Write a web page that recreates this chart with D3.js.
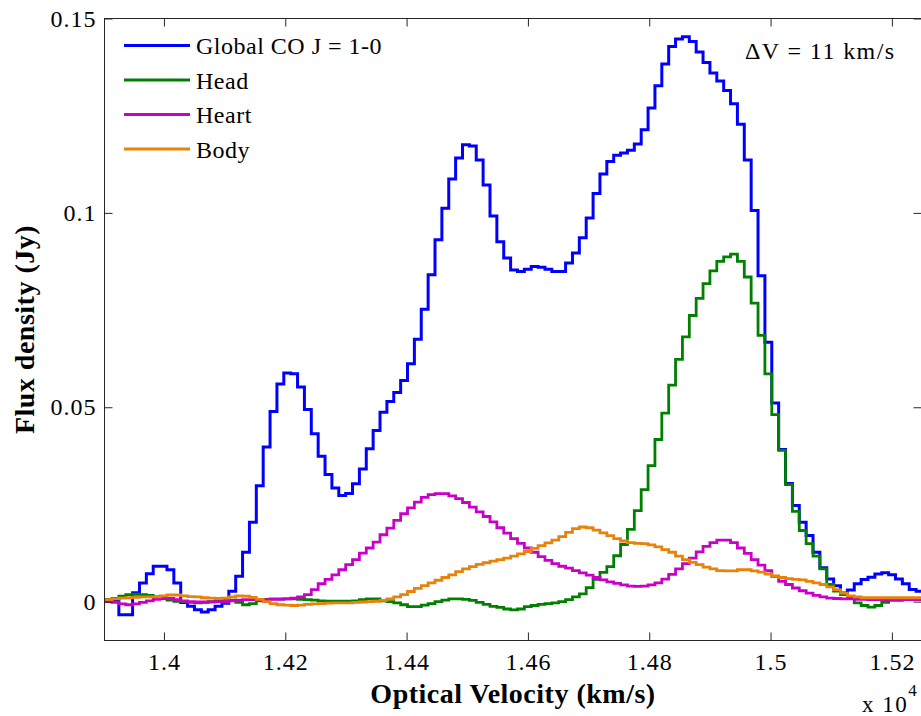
<!DOCTYPE html>
<html>
<head>
<meta charset="utf-8">
<script src="https://cdn.jsdelivr.net/npm/d3@7"></script>
<style>
  body { margin: 0; background: #fff; }
  svg text { font-family: "Liberation Serif", "Times New Roman", "DejaVu Serif", serif; fill: #000; }
</style>
</head>
<body>
<svg id="chart" width="921" height="716"></svg>
<script>
// channel grid of the spectra (optical velocity, km/s)
const chanStart = 13903;
const chanWidth = 11.33;

// flux density per channel (Jy)
const globalCO = [
  0.0005, 0.0005, -0.0034, -0.0034, 0.0023, 0.0048, 0.0072, 0.0091, 0.0091, 0.0082,
  0.0048, -0.0002, -0.0012, -0.0021, -0.0027, -0.0021, -0.0012, -0.0004, 0.0027, 0.0065,
  0.0127, 0.0204, 0.0298, 0.0398, 0.0489, 0.0560, 0.0588, 0.0586, 0.0552, 0.0494,
  0.0432, 0.0374, 0.0327, 0.0292, 0.0273, 0.0278, 0.0303, 0.0341, 0.0393, 0.0440,
  0.0487, 0.0515, 0.0538, 0.0569, 0.0612, 0.0675, 0.0752, 0.0841, 0.0931, 0.1012,
  0.1087, 0.1141, 0.1175, 0.1172, 0.1136, 0.1072, 0.0992, 0.0926, 0.0884, 0.0853,
  0.0849, 0.0855, 0.0862, 0.0860, 0.0855, 0.0849, 0.0849, 0.0871, 0.0897, 0.0936,
  0.0987, 0.1050, 0.1100, 0.1132, 0.1148, 0.1154, 0.1161, 0.1177, 0.1214, 0.1270,
  0.1327, 0.1383, 0.1428, 0.1447, 0.1453, 0.1441, 0.1414, 0.1387, 0.1360, 0.1339,
  0.1315, 0.1281, 0.1228, 0.1136, 0.1006, 0.0838, 0.0667, 0.0511, 0.0391, 0.0304,
  0.0247, 0.0204, 0.0170, 0.0127, 0.0087, 0.0058, 0.0041, 0.0022, 0.0030, 0.0046,
  0.0057, 0.0063, 0.0071, 0.0074, 0.0069, 0.0058, 0.0046, 0.0031, 0.0027
];

const head = [
  0.0005, 0.0008, 0.0014, 0.0018, 0.0019, 0.0018, 0.0016, 0.0012, 0.0008, 0.0004,
  0.0001, 0.0000, -0.0002, -0.0003, -0.0002, 0.0000, 0.0002, 0.0003, 0.0004, -0.0002,
  -0.0008, -0.0005, 0.0002, 0.0006, 0.0007, 0.0007, 0.0007, 0.0007, 0.0006, 0.0005,
  0.0004, 0.0002, 0.0001, 0.0001, 0.0001, 0.0001, 0.0002, 0.0005, 0.0007, 0.0007,
  0.0002, 0.0000, -0.0003, -0.0008, -0.0013, -0.0013, -0.0009, -0.0005, 0.0000, 0.0004,
  0.0007, 0.0007, 0.0006, 0.0003, -0.0002, -0.0007, -0.0012, -0.0015, -0.0019, -0.0021,
  -0.0019, -0.0013, -0.0010, -0.0007, -0.0005, -0.0003, 0.0000, 0.0005, 0.0012, 0.0020,
  0.0036, 0.0057, 0.0075, 0.0090, 0.0118, 0.0147, 0.0186, 0.0234, 0.0288, 0.0350,
  0.0417, 0.0485, 0.0557, 0.0623, 0.0681, 0.0736, 0.0780, 0.0818, 0.0851, 0.0875,
  0.0887, 0.0894, 0.0875, 0.0835, 0.0768, 0.0685, 0.0586, 0.0481, 0.0389, 0.0301,
  0.0232, 0.0183, 0.0149, 0.0117, 0.0084, 0.0044, 0.0027, 0.0018, 0.0010, -0.0003,
  -0.0010, -0.0014, -0.0010, -0.0002, 0.0003, 0.0003, 0.0007, 0.0007, 0.0007
];

const heart = [
  0.0000, -0.0002, -0.0006, -0.0008, -0.0006, -0.0002, 0.0002, 0.0006, 0.0009, 0.0008,
  0.0005, 0.0002, 0.0000, -0.0001, -0.0001, -0.0001, 0.0000, 0.0000, 0.0002, 0.0004,
  0.0005, 0.0005, 0.0005, 0.0005, 0.0006, 0.0006, 0.0007, 0.0009, 0.0012, 0.0018,
  0.0031, 0.0046, 0.0057, 0.0069, 0.0082, 0.0095, 0.0108, 0.0125, 0.0138, 0.0153,
  0.0172, 0.0189, 0.0209, 0.0226, 0.0241, 0.0256, 0.0268, 0.0275, 0.0278, 0.0278,
  0.0272, 0.0265, 0.0255, 0.0243, 0.0231, 0.0219, 0.0205, 0.0190, 0.0176, 0.0162,
  0.0150, 0.0138, 0.0127, 0.0116, 0.0106, 0.0098, 0.0091, 0.0086, 0.0080, 0.0074,
  0.0068, 0.0062, 0.0056, 0.0051, 0.0047, 0.0043, 0.0040, 0.0039, 0.0040, 0.0043,
  0.0048, 0.0058, 0.0070, 0.0084, 0.0098, 0.0112, 0.0128, 0.0142, 0.0152, 0.0158,
  0.0158, 0.0152, 0.0138, 0.0124, 0.0108, 0.0094, 0.0080, 0.0065, 0.0052, 0.0044,
  0.0035, 0.0028, 0.0022, 0.0016, 0.0012, 0.0009, 0.0008, 0.0007, 0.0007, 0.0006,
  0.0006, 0.0005, 0.0005, 0.0005, 0.0005, 0.0005, 0.0005, 0.0005, 0.0005
];

const body = [
  0.0005, 0.0007, 0.0009, 0.0010, 0.0011, 0.0012, 0.0012, 0.0012, 0.0015, 0.0017,
  0.0017, 0.0015, 0.0013, 0.0012, 0.0010, 0.0009, 0.0008, 0.0009, 0.0012, 0.0015,
  0.0014, 0.0011, 0.0006, 0.0000, -0.0005, -0.0008, -0.0009, -0.0010, -0.0009, -0.0007,
  -0.0006, -0.0005, -0.0004, -0.0003, -0.0003, -0.0003, -0.0002, -0.0001, 0.0000, 0.0001,
  0.0003, 0.0007, 0.0012, 0.0018, 0.0026, 0.0034, 0.0041, 0.0048, 0.0055, 0.0062,
  0.0069, 0.0077, 0.0084, 0.0090, 0.0096, 0.0100, 0.0104, 0.0108, 0.0112, 0.0117,
  0.0123, 0.0129, 0.0137, 0.0144, 0.0151, 0.0158, 0.0167, 0.0178, 0.0188, 0.0192,
  0.0190, 0.0184, 0.0177, 0.0170, 0.0162, 0.0156, 0.0152, 0.0150, 0.0149, 0.0146,
  0.0141, 0.0134, 0.0127, 0.0117, 0.0108, 0.0101, 0.0095, 0.0089, 0.0084, 0.0080,
  0.0079, 0.0079, 0.0082, 0.0082, 0.0079, 0.0076, 0.0071, 0.0066, 0.0062, 0.0059,
  0.0057, 0.0056, 0.0052, 0.0048, 0.0044, 0.0038, 0.0031, 0.0022, 0.0015, 0.0012,
  0.0010, 0.0010, 0.0010, 0.0010, 0.0010, 0.0010, 0.0010, 0.0010, 0.0010
];

const seriesNames = ['Global CO J = 1-0', 'Head', 'Heart', 'Body'];
const seriesColors = ['#0000ff', '#008000', '#c800c8', '#e8820a'];
const seriesValues = [globalCO, head, heart, body];

const xTicks = [14000, 14200, 14400, 14600, 14800, 15000, 15200];
const xTickLabels = ['1.4', '1.42', '1.44', '1.46', '1.48', '1.5', '1.52'];
const yTicks = [0, 0.05, 0.1, 0.15];
const yTickLabels = ['0', '0.05', '0.1', '0.15'];

const serif = '"Liberation Serif", "Times New Roman", "DejaVu Serif", serif';
const box = { left: 104.5, right: 921.5, top: 18.5, bottom: 640.5 };

const svg = d3.select('#chart');

const x = d3.scaleLinear().domain([13902, 15248]).range([box.left, 921]);
const y = d3.scaleLinear().domain([-0.01, 0.15]).range([box.bottom, box.top]);

svg.append('defs').append('clipPath').attr('id', 'plot-clip')
  .append('rect')
  .attr('x', box.left).attr('y', box.top)
  .attr('width', box.right - box.left).attr('height', box.bottom - box.top);

// spectra as stairs
const stairs = d3.line()
  .x((d) => x(d.v))
  .y((d) => y(d.f))
  .curve(d3.curveStepAfter);

function toPoints(values) {
  const pts = values.map((f, i) => ({ v: chanStart + i * chanWidth, f }));
  pts.push({ v: chanStart + values.length * chanWidth, f: values[values.length - 1] });
  return pts;
}

const lines = svg.append('g').attr('clip-path', 'url(#plot-clip)');
seriesValues.forEach((vals, i) => {
  lines.append('path')
    .attr('d', stairs(toPoints(vals)))
    .attr('fill', 'none')
    .attr('stroke', seriesColors[i])
    .attr('stroke-width', i === 0 ? 3 : 2.8)
    .attr('stroke-linejoin', 'miter');
});

// axes with inward ticks on all four sides
const tickLen = 8;
function styleAxis(g) {
  g.attr('font-family', serif);
  g.select('.domain').remove();
  g.selectAll('.tick line').attr('stroke', '#262626');
  g.selectAll('.tick text')
    .style('font-family', serif)
    .style('font-size', '24px')
    .style('letter-spacing', '1px')
    .attr('fill', '#000');
}

svg.append('g')
  .attr('transform', `translate(0,${box.bottom})`)
  .call(d3.axisBottom(x).tickValues(xTicks).tickFormat((d, i) => xTickLabels[i])
    .tickSizeInner(-tickLen).tickSizeOuter(0).tickPadding(12))
  .call(styleAxis);

svg.append('g')
  .attr('transform', `translate(0,${box.top})`)
  .call(d3.axisTop(x).tickValues(xTicks).tickFormat('')
    .tickSizeInner(-tickLen).tickSizeOuter(0))
  .call(styleAxis);

svg.append('g')
  .attr('transform', `translate(${box.left},0)`)
  .call(d3.axisLeft(y).tickValues(yTicks).tickFormat((d, i) => yTickLabels[i])
    .tickSizeInner(-tickLen).tickSizeOuter(0).tickPadding(8))
  .call(styleAxis);

svg.append('g')
  .attr('transform', `translate(${box.right},0)`)
  .call(d3.axisRight(y).tickValues(yTicks).tickFormat('')
    .tickSizeInner(-tickLen).tickSizeOuter(0))
  .call(styleAxis);

svg.append('rect')
  .attr('x', box.left).attr('y', box.top)
  .attr('width', box.right - box.left).attr('height', box.bottom - box.top)
  .attr('fill', 'none')
  .attr('stroke', '#262626')
  .attr('stroke-width', 1);

// axis labels
svg.append('text')
  .attr('x', (box.left + box.right) / 2)
  .attr('y', 703)
  .attr('text-anchor', 'middle')
  .style('font-family', serif)
  .style('font-size', '28px')
  .style('font-weight', 'bold')
  .style('letter-spacing', '0.5px')
  .text('Optical Velocity (km/s)');

svg.append('text')
  .attr('transform', `translate(34,${(box.top + box.bottom) / 2}) rotate(-90)`)
  .attr('text-anchor', 'middle')
  .style('font-family', serif)
  .style('font-size', '28px')
  .style('font-weight', 'bold')
  .style('letter-spacing', '0.5px')
  .text('Flux density (Jy)');

// exponent note under the x axis
const expo = svg.append('text')
  .attr('x', 862)
  .attr('y', 712)
  .style('font-family', serif)
  .style('font-size', '23px')
  .style('letter-spacing', '1.5px');
expo.append('tspan').text('x 10');
expo.append('tspan').attr('dy', -16).style('font-size', '17px').text('4');

// legend
const legend = svg.append('g');
seriesNames.forEach((name, i) => {
  const ly = 45.5 + i * 34.5;
  legend.append('line')
    .attr('x1', 124).attr('x2', 190)
    .attr('y1', ly).attr('y2', ly)
    .attr('stroke', seriesColors[i])
    .attr('stroke-width', 2.8);
  legend.append('text')
    .attr('x', 196)
    .attr('y', ly + 8.5)
    .style('font-family', serif)
    .style('font-size', '24px')
    .style('letter-spacing', '0.5px')
    .text(name);
});

svg.append('text')
  .attr('x', 745)
  .attr('y', 59)
  .style('font-family', serif)
  .style('font-size', '24px')
  .style('letter-spacing', '1.4px')
  .text('\u0394V = 11 km/s');
</script>
</body>
</html>
